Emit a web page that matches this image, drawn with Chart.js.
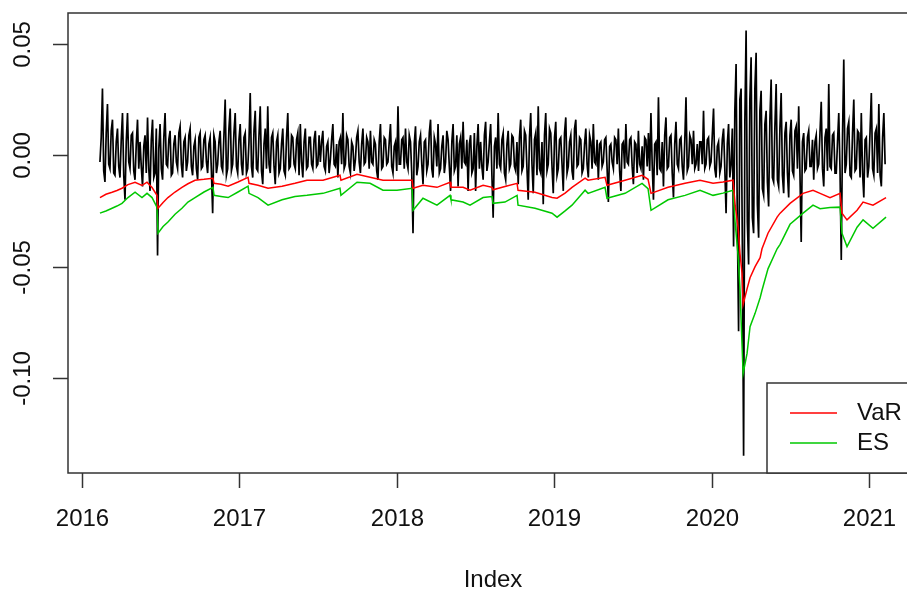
<!DOCTYPE html>
<html><head><meta charset="utf-8">
<script src="https://cdn.jsdelivr.net/npm/chart.js@4.4.0/dist/chart.umd.min.js"></script>
<style>
html,body{margin:0;padding:0;background:#fff;overflow:hidden;width:907px;height:592px}
#wrap{position:absolute;left:0;top:0;width:960px;height:592px}
</style>
</head><body><div id="wrap"><canvas id="c" width="960" height="592"></canvas></div>
<script>
// ---- data ----
const returnsStart = 2016.114, returnsEnd = 2021.102;
const returns = [
-0.003,0.008,0.030,-0.007,-0.012,0.010,0.023,-0.004,-0.006,0.011,0.016,-0.008,-0.009,0.006,0.012,-0.005,
-0.010,0.007,0.019,-0.009,-0.020,0.006,0.019,-0.003,-0.006,0.009,0.010,-0.007,-0.011,0.005,0.016,-0.006,
0.006,-0.005,-0.014,0.004,0.009,-0.008,0.017,-0.006,-0.016,0.007,0.016,-0.010,-0.008,0.012,-0.045,0.003,
0.014,-0.006,-0.011,0.008,0.019,-0.004,-0.005,0.007,0.011,-0.009,-0.008,0.005,0.009,-0.003,-0.006,0.010,
0.013,-0.004,-0.010,0.006,0.008,-0.007,-0.003,0.009,0.012,-0.005,-0.009,0.004,0.007,-0.006,-0.011,0.008,
0.010,-0.006,-0.005,0.007,0.009,-0.003,-0.008,0.005,0.008,-0.007,-0.026,0.009,0.006,-0.008,-0.004,0.006,
0.011,-0.005,-0.007,0.009,0.025,-0.009,-0.006,0.012,0.021,-0.007,-0.004,0.010,0.019,-0.005,-0.008,0.007,
0.014,-0.004,-0.009,0.008,0.010,-0.008,-0.006,0.006,0.028,-0.005,-0.010,0.011,0.020,-0.006,-0.007,0.009,
0.022,-0.007,-0.013,0.005,0.012,-0.006,0.022,-0.004,-0.008,0.008,0.010,-0.005,-0.013,0.006,0.009,-0.008,
-0.006,0.005,0.012,-0.007,-0.009,0.008,0.019,-0.006,-0.005,0.009,0.008,-0.004,-0.006,0.007,0.010,-0.009,
0.014,-0.003,-0.010,0.006,0.012,-0.006,-0.005,0.008,0.008,-0.004,-0.006,0.007,0.011,-0.005,-0.004,0.009,
-0.003,0.006,0.011,-0.005,-0.007,0.004,0.006,-0.008,-0.002,0.007,0.014,-0.004,-0.005,0.005,-0.010,0.006,
0.008,-0.004,0.019,-0.006,-0.004,0.009,0.007,-0.005,-0.008,0.006,0.004,-0.007,-0.002,0.008,0.011,-0.003,
-0.008,0.005,0.012,-0.004,-0.003,0.008,0.006,-0.006,0.011,-0.003,-0.004,0.007,0.005,-0.007,-0.011,0.006,
0.014,-0.006,-0.005,0.008,0.007,-0.004,-0.003,0.006,0.014,-0.005,-0.008,0.004,0.006,-0.007,0.022,-0.004,
-0.004,0.007,0.008,-0.006,0.012,-0.003,-0.006,0.009,0.006,-0.008,-0.035,0.005,0.013,-0.009,-0.005,0.006,
0.009,-0.004,-0.013,0.006,0.007,-0.007,-0.004,0.010,0.016,-0.006,-0.010,0.008,0.005,-0.005,0.014,-0.008,
-0.006,0.004,0.009,-0.008,-0.003,0.011,0.007,-0.005,-0.016,0.006,0.014,-0.007,-0.005,0.009,-0.014,0.005,
0.008,-0.006,0.015,-0.003,-0.004,0.007,-0.016,0.005,0.009,-0.008,-0.006,0.010,-0.016,0.004,0.014,-0.006,
0.006,-0.005,-0.011,0.009,0.015,-0.007,-0.003,0.006,0.014,-0.009,-0.028,0.004,0.008,-0.006,0.019,-0.004,
-0.006,0.007,0.010,-0.008,-0.011,0.005,0.011,-0.006,-0.004,0.009,0.008,-0.005,-0.007,0.006,-0.013,0.008,
0.016,-0.007,-0.005,0.011,0.009,-0.006,-0.020,0.008,0.019,-0.004,-0.017,0.007,0.010,-0.009,0.022,-0.006,
-0.008,0.006,-0.022,0.009,0.019,-0.007,-0.004,0.012,0.010,-0.005,-0.017,0.008,0.015,-0.009,-0.006,0.007,
0.008,-0.004,-0.016,0.010,0.017,-0.008,-0.005,0.006,0.009,-0.007,-0.011,0.012,0.016,-0.005,-0.004,0.008,
0.007,-0.008,-0.006,0.005,0.012,-0.004,-0.010,0.009,0.006,-0.006,0.014,-0.003,-0.004,0.007,-0.011,0.005,
0.006,-0.005,-0.003,0.007,0.008,-0.006,-0.021,0.004,0.005,-0.003,-0.006,0.008,0.007,-0.004,0.012,-0.007,
-0.016,0.005,0.006,-0.006,0.014,-0.003,-0.004,0.007,0.008,-0.005,-0.013,0.006,0.005,-0.008,0.011,-0.004,
-0.006,0.004,-0.011,0.008,0.007,-0.005,0.010,-0.007,0.019,-0.004,-0.020,0.005,0.006,-0.009,0.026,-0.006,
-0.007,0.006,-0.014,0.009,0.017,-0.006,-0.005,0.008,0.009,-0.008,-0.019,0.005,0.015,-0.004,-0.006,0.007,
0.008,-0.005,-0.011,0.006,0.026,-0.007,-0.005,0.009,0.007,-0.004,0.011,-0.006,-0.004,0.005,-0.007,0.006,
0.006,-0.004,0.020,-0.006,-0.004,0.007,0.008,-0.005,-0.003,0.009,0.021,-0.006,-0.010,0.004,0.006,-0.008,
-0.005,0.007,0.012,-0.006,-0.026,0.005,0.014,-0.010,-0.004,0.012,-0.041,0.020,0.041,-0.030,-0.079,0.025,
0.030,-0.040,-0.135,0.015,0.056,-0.030,-0.049,0.025,0.044,-0.028,-0.035,0.030,0.046,-0.022,-0.037,0.020,
0.029,-0.015,-0.018,0.014,0.020,-0.012,-0.023,0.016,0.034,-0.010,-0.012,0.013,0.032,-0.011,-0.014,0.012,
0.028,-0.009,-0.017,0.010,0.015,-0.008,-0.019,0.009,0.016,-0.007,-0.009,0.011,0.013,-0.006,0.022,-0.008,
-0.039,0.006,0.010,-0.007,-0.006,0.008,0.011,-0.005,-0.005,0.007,-0.011,0.006,0.009,-0.006,-0.004,0.010,
0.024,-0.006,-0.014,0.008,0.012,-0.007,0.032,-0.005,-0.006,0.009,0.010,-0.008,-0.008,0.006,0.019,-0.007,
-0.047,0.009,0.043,-0.008,-0.004,0.012,0.015,-0.009,-0.010,0.010,0.025,-0.007,-0.006,0.011,0.010,-0.010,
0.019,-0.008,-0.019,0.007,0.008,-0.010,-0.005,0.011,0.028,-0.006,-0.009,0.010,0.012,-0.008,0.023,-0.009,
-0.014,0.008,0.019,-0.004
];
const riskDates = [
2016.114,2016.152,2016.191,2016.222,2016.254,2016.292,2016.337,2016.381,2016.413,2016.445,
2016.476,2016.483,2016.515,2016.546,2016.591,2016.635,2016.673,2016.718,2016.775,2016.832,
2016.839,2016.883,2016.928,2016.991,2017.055,2017.061,2017.118,2017.182,2017.271,2017.353,
2017.429,2017.531,2017.639,2017.645,2017.747,2017.830,2017.912,2018.001,2018.097,2018.103,
2018.166,2018.255,2018.338,2018.344,2018.421,2018.465,2018.548,2018.605,2018.611,2018.687,
2018.764,2018.770,2018.878,2018.986,2019.018,2019.069,2019.113,2019.196,2019.215,2019.323,
2019.335,2019.450,2019.558,2019.596,2019.615,2019.723,2019.831,2019.926,2020.009,2020.072,
2020.136,2020.149,2020.168,2020.180,2020.193,2020.200,2020.225,2020.244,2020.276,2020.308,
2020.320,2020.358,2020.416,2020.435,2020.498,2020.581,2020.644,2020.689,2020.752,2020.816,
2020.828,2020.860,2020.924,2020.962,2021.025,2021.108
];
const varValues = [
-0.0190,-0.0175,-0.0166,-0.0158,-0.0148,-0.0132,-0.0121,-0.0135,-0.0121,-0.0145,
-0.0180,-0.0238,-0.0212,-0.0190,-0.0165,-0.0144,-0.0128,-0.0112,-0.0108,-0.0103,
-0.0126,-0.0130,-0.0139,-0.0120,-0.0099,-0.0126,-0.0135,-0.0148,-0.0139,-0.0126,
-0.0112,-0.0112,-0.0090,-0.0112,-0.0085,-0.0099,-0.0112,-0.0112,-0.0112,-0.0148,
-0.0135,-0.0144,-0.0121,-0.0144,-0.0144,-0.0157,-0.0135,-0.0144,-0.0155,-0.0140,
-0.0126,-0.0157,-0.0166,-0.0190,-0.0193,-0.0170,-0.0144,-0.0103,-0.0112,-0.0099,
-0.0135,-0.0112,-0.0090,-0.0108,-0.0171,-0.0144,-0.0126,-0.0112,-0.0126,-0.0120,
-0.0112,-0.0220,-0.0323,-0.0440,-0.0530,-0.0670,-0.0600,-0.0550,-0.0500,-0.0460,
-0.0420,-0.0350,-0.0278,-0.0260,-0.0216,-0.0171,-0.0157,-0.0171,-0.0190,-0.0171,
-0.0260,-0.0290,-0.0247,-0.0210,-0.0224,-0.0190
];
const esValues = [
-0.0260,-0.0250,-0.0238,-0.0228,-0.0216,-0.0190,-0.0166,-0.0190,-0.0171,-0.0190,
-0.0233,-0.0350,-0.0320,-0.0300,-0.0265,-0.0238,-0.0210,-0.0190,-0.0165,-0.0144,
-0.0180,-0.0185,-0.0190,-0.0165,-0.0139,-0.0171,-0.0190,-0.0224,-0.0200,-0.0185,
-0.0180,-0.0171,-0.0148,-0.0180,-0.0121,-0.0126,-0.0157,-0.0157,-0.0148,-0.0247,
-0.0193,-0.0224,-0.0180,-0.0200,-0.0210,-0.0224,-0.0190,-0.0185,-0.0216,-0.0210,
-0.0180,-0.0224,-0.0238,-0.0260,-0.0278,-0.0250,-0.0224,-0.0157,-0.0171,-0.0144,
-0.0193,-0.0171,-0.0126,-0.0150,-0.0247,-0.0200,-0.0180,-0.0157,-0.0180,-0.0170,
-0.0157,-0.0300,-0.0450,-0.0600,-0.0850,-0.0980,-0.0890,-0.0770,-0.0710,-0.0640,
-0.0606,-0.0510,-0.0420,-0.0400,-0.0310,-0.0260,-0.0224,-0.0240,-0.0235,-0.0233,
-0.0350,-0.0410,-0.0323,-0.0290,-0.0328,-0.0278
];
const xTicks = [2016, 2017, 2018, 2019, 2020, 2021];
const xTickLabels = ['2016', '2017', '2018', '2019', '2020', '2021'];
const yTicks = [-0.10, -0.05, 0.00, 0.05];
const yTickLabels = ['-0.10', '-0.05', '0.00', '0.05'];
const legendLabels = ['VaR', 'ES'];
const xLabel = 'Index';

// ---- build points ----
const stepYears = (returnsEnd - returnsStart) / (returns.length - 1);
const returnPts = returns.map((v, i) => ({x: returnsStart + i * stepYears, y: v}));
const varPts = varValues.map((v, i) => ({x: riskDates[i], y: v}));
const esPts = esValues.map((v, i) => ({x: riskDates[i], y: v}));

const FONT = '24px "Liberation Sans", Arial, sans-serif';
const RED = '#FF0000', GREEN = '#00C800';

const frame = {
  id: 'frame',
  afterDraw(chart) {
    const {ctx, chartArea: a, scales: {x, y}} = chart;
    const seg = (x1, y1, x2, y2) => { ctx.beginPath(); ctx.moveTo(x1, y1); ctx.lineTo(x2, y2); ctx.stroke(); };
    ctx.save();
    ctx.strokeStyle = '#333'; ctx.lineWidth = 1.5;
    ctx.strokeRect(a.left, a.top, a.right - a.left, a.bottom - a.top);
    ctx.fillStyle = '#111'; ctx.font = FONT;
    ctx.textAlign = 'center'; ctx.textBaseline = 'middle';
    xTicks.forEach((v, i) => {
      const px = Math.round(x.getPixelForValue(v)) + 0.5;
      seg(px, a.bottom, px, a.bottom + 15);
      ctx.fillText(xTickLabels[i], px, a.bottom + 46);
    });
    yTicks.forEach((v, i) => {
      const py = Math.round(y.getPixelForValue(v)) + 0.5;
      seg(a.left - 15, py, a.left, py);
      ctx.save(); ctx.translate(a.left - 45, py); ctx.rotate(-Math.PI / 2);
      ctx.fillText(yTickLabels[i], 0, 0); ctx.restore();
    });
    ctx.fillText(xLabel, (a.left + a.right) / 2, a.bottom + 107);
    // legend (bottom right)
    const lx = a.right - 151, ly = a.bottom - 90;
    ctx.fillStyle = '#fff'; ctx.fillRect(lx, ly, 200, 90);
    ctx.strokeStyle = '#333'; ctx.lineWidth = 1.5;
    ctx.strokeRect(lx, ly, 200, 90);
    [RED, GREEN].forEach((c, i) => {
      const yy = ly + 30 + i * 30;
      ctx.strokeStyle = c; ctx.lineWidth = 1.4;
      seg(lx + 23, yy, lx + 70, yy);
      ctx.fillStyle = '#111'; ctx.textAlign = 'left';
      ctx.fillText(legendLabels[i], lx + 90, yy);
    });
    ctx.restore();
  }
};

new Chart(document.getElementById('c'), {
  type: 'line',
  data: {
    datasets: [
      {label: 'VaR', data: varPts, borderColor: RED, borderWidth: 1.5, pointRadius: 0, tension: 0},
      {label: 'ES', data: esPts, borderColor: GREEN, borderWidth: 1.5, pointRadius: 0, tension: 0},
      {label: 'Returns', data: returnPts, borderColor: '#000', borderWidth: 1.7, pointRadius: 0, tension: 0}
    ]
  },
  options: {
    responsive: false, animation: false, devicePixelRatio: 1,
    layout: {padding: {left: 68, top: 13, right: 42, bottom: 119}},
    plugins: {legend: {display: false}, tooltip: {enabled: false}},
    scales: {
      x: {type: 'linear', min: 2015.911, max: 2021.311, display: false},
      y: {type: 'linear', min: -0.1427, max: 0.0639, display: false}
    }
  },
  plugins: [frame]
});
</script>
</body></html>
